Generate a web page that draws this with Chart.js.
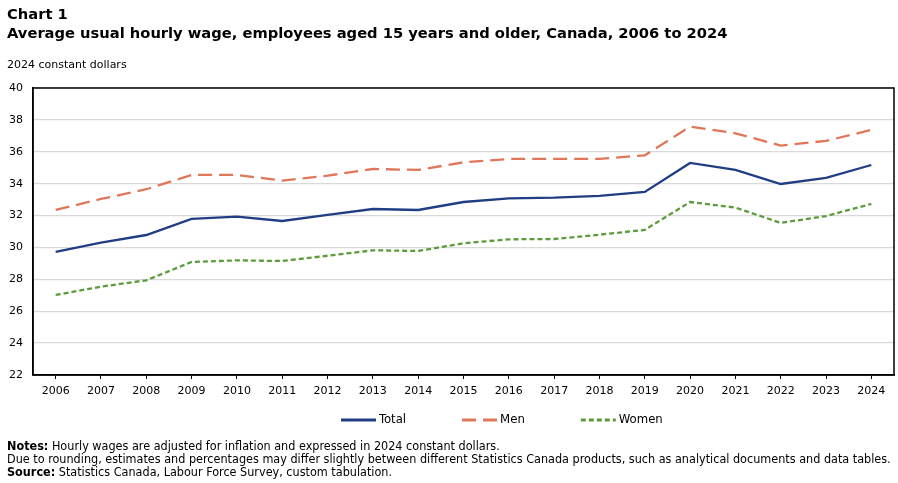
<!DOCTYPE html>
<html>
<head>
<meta charset="utf-8">
<script src="https://cdn.jsdelivr.net/npm/chart.js@4.4.0/dist/chart.umd.min.js"></script>
<style>
  html, body { margin: 0; padding: 0; background: #fff; }
  body { width: 898px; height: 483px; position: relative; overflow: hidden; font-family: "DejaVu Sans", Verdana, sans-serif; color: #000; }
  #wrap { position: absolute; left: 0; top: 0; width: 898px; height: 483px; }
  .t1 { position: absolute; left: 7px; top: 5px; font-weight: bold; font-size: 14.7px; line-height: 18px; }
  .t2 { position: absolute; left: 7px; top: 24px; font-weight: bold; font-size: 14.7px; line-height: 18px; white-space: nowrap; }
  .unit { position: absolute; left: 7px; top: 58px; font-size: 11px; }
  .notes { position: absolute; left: 7px; top: 439px; font-family: "DejaVu Sans Condensed", "Liberation Sans Narrow", sans-serif; font-size: 12.5px; line-height: 13px; white-space: nowrap; }
</style>
</head>
<body>
<div id="wrap"><canvas id="chart" width="898" height="483"></canvas></div>
<div class="t1">Chart 1</div>
<div class="t2">Average usual hourly wage, employees aged 15 years and older, Canada, 2006 to 2024</div>
<div class="unit">2024 constant dollars</div>
<div class="notes">
  <div><b>Notes:</b> Hourly wages are adjusted for inflation and expressed in 2024 constant dollars.</div>
  <div>Due to rounding, estimates and percentages may differ slightly between different Statistics Canada products, such as analytical documents and data tables.</div>
  <div><b>Source:</b> Statistics Canada, Labour Force Survey, custom tabulation.</div>
</div>
<script>
const years = ["2006", "2007", "2008", "2009", "2010", "2011", "2012", "2013", "2014", "2015",
  "2016", "2017", "2018", "2019", "2020", "2021", "2022", "2023", "2024"]

const total = [29.72, 30.30, 30.78, 31.79, 31.93, 31.66, 32.04, 32.41, 32.35, 32.85,
  33.08, 33.12, 33.23, 33.48, 35.30, 34.86, 33.98, 34.36, 35.17]

const men = [32.35, 33.04, 33.65, 34.55, 34.55, 34.19, 34.50, 34.92, 34.86, 35.34,
  35.55, 35.55, 35.55, 35.78, 37.58, 37.16, 36.39, 36.68, 37.37]

const women = [27.02, 27.54, 27.94, 29.09, 29.19, 29.15, 29.48, 29.82, 29.78, 30.26,
  30.51, 30.53, 30.80, 31.10, 32.85, 32.50, 31.54, 31.97, 32.73]

const yTicks = [22, 24, 26, 28, 30, 32, 34, 36, 38, 40]

// box round the plot area
const frame = {
  id: "frame",
  afterDraw(chart) {
    const { ctx, chartArea: a } = chart
    ctx.save()
    ctx.strokeStyle = "#000"
    ctx.lineWidth = 1.5
    ctx.strokeRect(a.left, a.top, a.right - a.left, a.bottom - a.top)
    ctx.restore()
  },
}

// legend row under the axis, drawn from the datasets
const lineLegend = {
  id: "lineLegend",
  afterDraw(chart) {
    const { ctx } = chart
    const lineLen = 35
    const textGap = 3
    const itemGap = 56
    let x = 341
    const y = chart.chartArea.bottom + 45
    ctx.save()
    ctx.font = "13px 'DejaVu Sans Condensed', 'Liberation Sans Narrow', sans-serif"
    ctx.textBaseline = "middle"
    ctx.fillStyle = "#000"
    chart.data.datasets.forEach((ds) => {
      ctx.beginPath()
      ctx.setLineDash(ds.borderDash || [])
      ctx.strokeStyle = ds.borderColor
      ctx.lineWidth = 3
      ctx.moveTo(x, y)
      ctx.lineTo(x + lineLen, y)
      ctx.stroke()
      ctx.setLineDash([])
      ctx.fillText(ds.label, x + lineLen + textGap, y)
      x += lineLen + textGap + ctx.measureText(ds.label).width + itemGap
    })
    ctx.restore()
  },
}

const ctx = document.getElementById("chart").getContext("2d")

new Chart(ctx, {
  type: "line",
  data: {
    labels: years,
    datasets: [
      { label: "Total", data: total, borderColor: "#213d84", borderWidth: 2.3, borderDash: [] },
      { label: "Men", data: men, borderColor: "#e0765a", borderWidth: 2.3, borderDash: [14, 7] },
      { label: "Women", data: women, borderColor: "#5b9b3b", borderWidth: 2.3, borderDash: [5, 3] },
    ],
  },
  options: {
    responsive: false,
    animation: false,
    elements: { point: { radius: 0 }, line: { tension: 0 } },
    layout: { padding: { top: 88, right: 4, left: 0, bottom: 80 } },
    plugins: {
      tooltip: { enabled: false },
      legend: { display: false },
    },
    scales: {
      x: {
        offset: true,
        afterFit: (axis) => { axis.height = 28 },
        grid: { offset: false, drawOnChartArea: false, drawTicks: true, tickLength: 4, color: "#000" },
        border: { color: "#000", width: 1.5 },
        ticks: { color: "#000", padding: 6, maxRotation: 0, autoSkip: false, font: { family: "'DejaVu Sans', Verdana, sans-serif", size: 11 } },
      },
      y: {
        min: 22,
        max: 40,
        afterFit: (axis) => { axis.width = 33 },
        afterBuildTicks: (axis) => { axis.ticks = yTicks.map((v) => ({ value: v })) },
        grid: { color: "#d9d9d9", lineWidth: 1.3, drawTicks: false },
        border: { color: "#000", width: 1.5 },
        ticks: { color: "#000", padding: 10, font: { family: "'DejaVu Sans', Verdana, sans-serif", size: 11 } },
      },
    },
  },
  plugins: [frame, lineLegend],
})
</script>
</body>
</html>
